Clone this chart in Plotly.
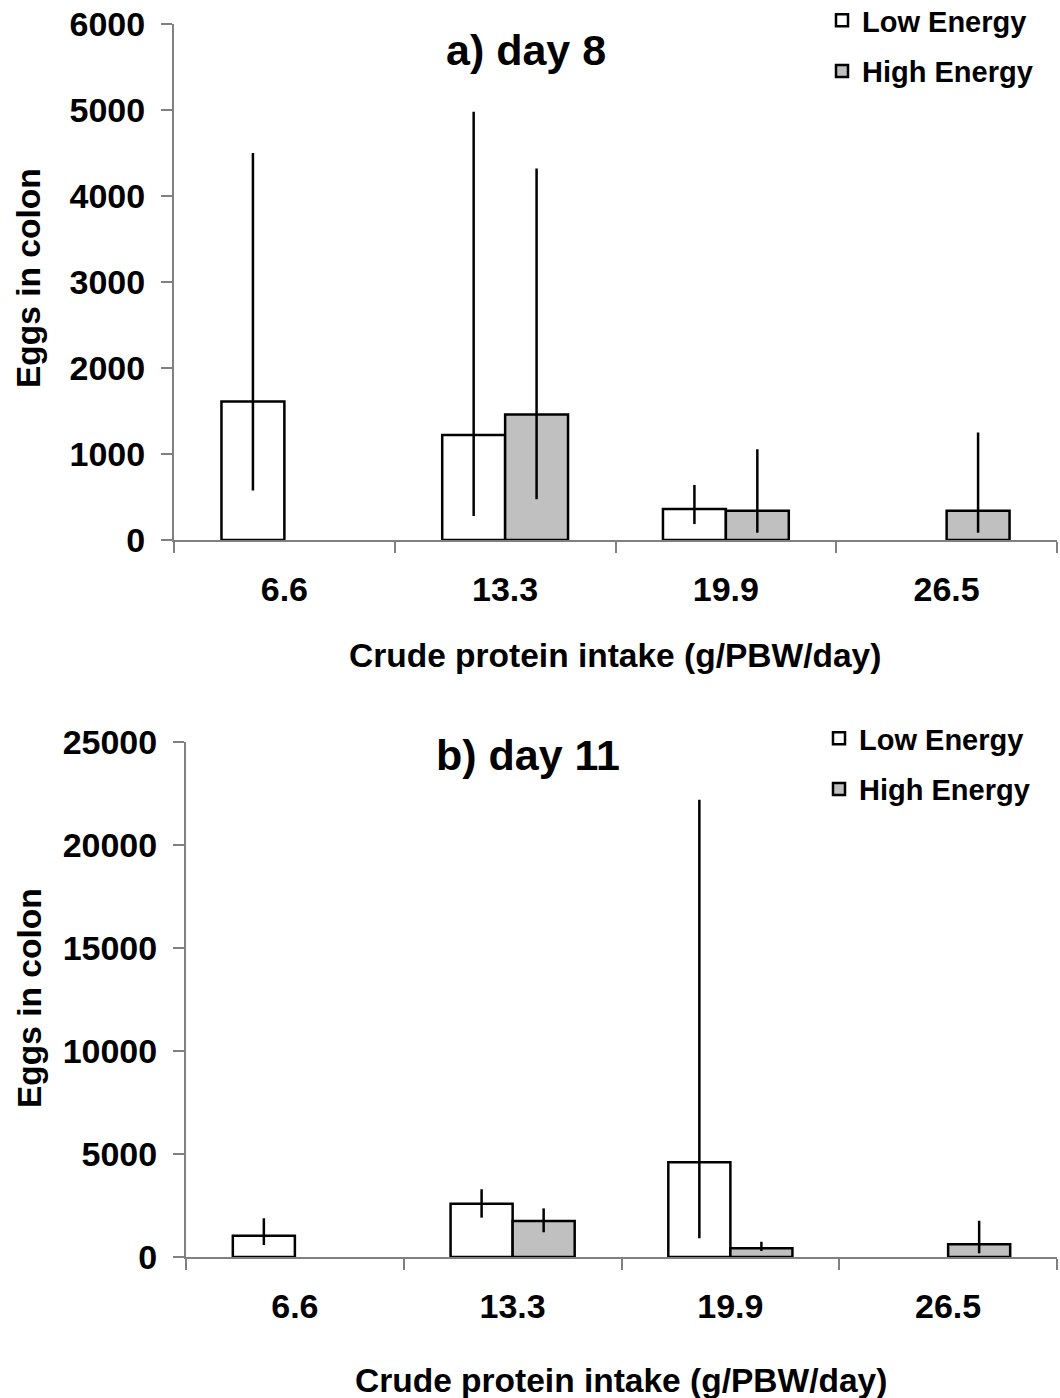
import plotly.graph_objects as go

W, H = 1060, 1398

protein = ["6.6", "13.3", "19.9", "26.5"]

# Day 8: means with lower / upper limits of the error bars
d8_low = [1610, 1220, 360, None]
d8_low_upper = [4500, 4980, 640, None]
d8_low_lower = [575, 280, 185, None]
d8_high = [None, 1460, 340, 340]
d8_high_upper = [None, 4320, 1055, 1250]
d8_high_lower = [None, 475, 85, 85]

# Day 11
d11_low = [1030, 2590, 4600, None]
d11_low_upper = [1880, 3290, 22200, None]
d11_low_lower = [580, 1910, 910, None]
d11_high = [None, 1750, 420, 620]
d11_high_upper = [None, 2360, 740, 1760]
d11_high_lower = [None, 1200, 290, 180]

y_ticks_a = [0, 1000, 2000, 3000, 4000, 5000, 6000]
y_ticks_b = [0, 5000, 10000, 15000, 20000, 25000]

FONT = "Liberation Sans, Arial, sans-serif"
AXIS_GREY = "#808080"


def px_x(x):
    return x / W


def px_y(y):
    return 1 - y / H


def err_up(mean, upper):
    return [(u - m) if m is not None else 0 for m, u in zip(mean, upper)]


def err_down(mean, lower):
    return [(m - l) if m is not None else 0 for m, l in zip(mean, lower)]


def bar(name, mean, upper, lower, fill, xaxis, yaxis, legend, group):
    return go.Bar(
        x=protein,
        y=mean,
        name=name,
        xaxis=xaxis,
        yaxis=yaxis,
        legend=legend,
        legendgroup=group,
        marker=dict(color=fill, line=dict(color="black", width=2.5)),
        error_y=dict(
            type="data",
            symmetric=False,
            array=err_up(mean, upper),
            arrayminus=err_down(mean, lower),
            color="black",
            thickness=2.5,
            width=0,
        ),
    )


fig = go.Figure()
fig.add_trace(bar("Low Energy", d8_low, d8_low_upper, d8_low_lower, "white", "x", "y", "legend", "a1"))
fig.add_trace(bar("High Energy", d8_high, d8_high_upper, d8_high_lower, "#C0C0C0", "x", "y", "legend", "a2"))
fig.add_trace(bar("Low Energy", d11_low, d11_low_upper, d11_low_lower, "white", "x2", "y2", "legend2", "b1"))
fig.add_trace(bar("High Energy", d11_high, d11_high_upper, d11_high_lower, "#C0C0C0", "x2", "y2", "legend2", "b2"))

tick_font = dict(family=FONT, size=34, color="black", weight="bold")

x_common = dict(
    type="category",
    categoryorder="array",
    categoryarray=protein,
    range=[-0.5, 3.5],
    tickson="boundaries",
    ticks="outside",
    ticklen=11,
    tickwidth=2,
    tickcolor=AXIS_GREY,
    showline=True,
    linecolor=AXIS_GREY,
    linewidth=2,
    showgrid=False,
    zeroline=False,
    tickfont=tick_font,
    ticklabelstandoff=18,
    automargin=False,
    fixedrange=True,
)
y_common = dict(
    ticks="outside",
    ticklen=11,
    tickwidth=2,
    tickcolor=AXIS_GREY,
    showline=True,
    linecolor=AXIS_GREY,
    linewidth=2,
    showgrid=False,
    zeroline=False,
    tickfont=tick_font,
    tickformat="d",
    ticklabelstandoff=9,
    automargin=False,
    fixedrange=True,
)

legend_common = dict(
    xanchor="left",
    yanchor="top",
    bgcolor="rgba(0,0,0,0)",
    font=dict(family=FONT, size=29, color="black", weight="bold"),
    tracegroupgap=10,
    traceorder="grouped",
    itemclick=False,
    itemdoubleclick=False,
)

fig.update_layout(
    width=W,
    height=H,
    margin=dict(l=0, r=0, t=0, b=0, autoexpand=False),
    paper_bgcolor="white",
    plot_bgcolor="white",
    barmode="group",
    bargap=0.43,
    bargroupgap=0,
    xaxis=dict(x_common, domain=[px_x(174), px_x(1057)], anchor="y"),
    yaxis=dict(y_common, domain=[px_y(540), px_y(24)], range=[0, 6000],
               tickvals=y_ticks_a, anchor="x"),
    xaxis2=dict(x_common, domain=[px_x(186), px_x(1057)], anchor="y2"),
    yaxis2=dict(y_common, domain=[px_y(1257), px_y(742)], range=[0, 25000],
                tickvals=y_ticks_b, anchor="x2"),
    legend=dict(legend_common, x=px_x(822), y=px_y(-5)),
    legend2=dict(legend_common, x=px_x(819), y=px_y(713)),
)

title_font = dict(family=FONT, size=43, color="black", weight="bold")
label_font = dict(family=FONT, size=33.5, color="black", weight="bold")

annotations = [
    dict(text="a) day 8", x=px_x(526), y=px_y(50), font=title_font),
    dict(text="b) day 11", x=px_x(528), y=px_y(755), font=title_font),
    dict(text="Crude protein intake (g/PBW/day)", x=px_x(615), y=px_y(655), font=label_font),
    dict(text="Crude protein intake (g/PBW/day)", x=px_x(621), y=px_y(1380), font=label_font),
    dict(text="Eggs in colon", x=px_x(29), y=px_y(278), textangle=-90, font=label_font),
    dict(text="Eggs in colon", x=px_x(29), y=px_y(998), textangle=-90, font=label_font),
]
for a in annotations:
    fig.add_annotation(xref="paper", yref="paper", showarrow=False,
                       xanchor="center", yanchor="middle", **a)

fig.write_html("out.html", config={"displayModeBar": False})
